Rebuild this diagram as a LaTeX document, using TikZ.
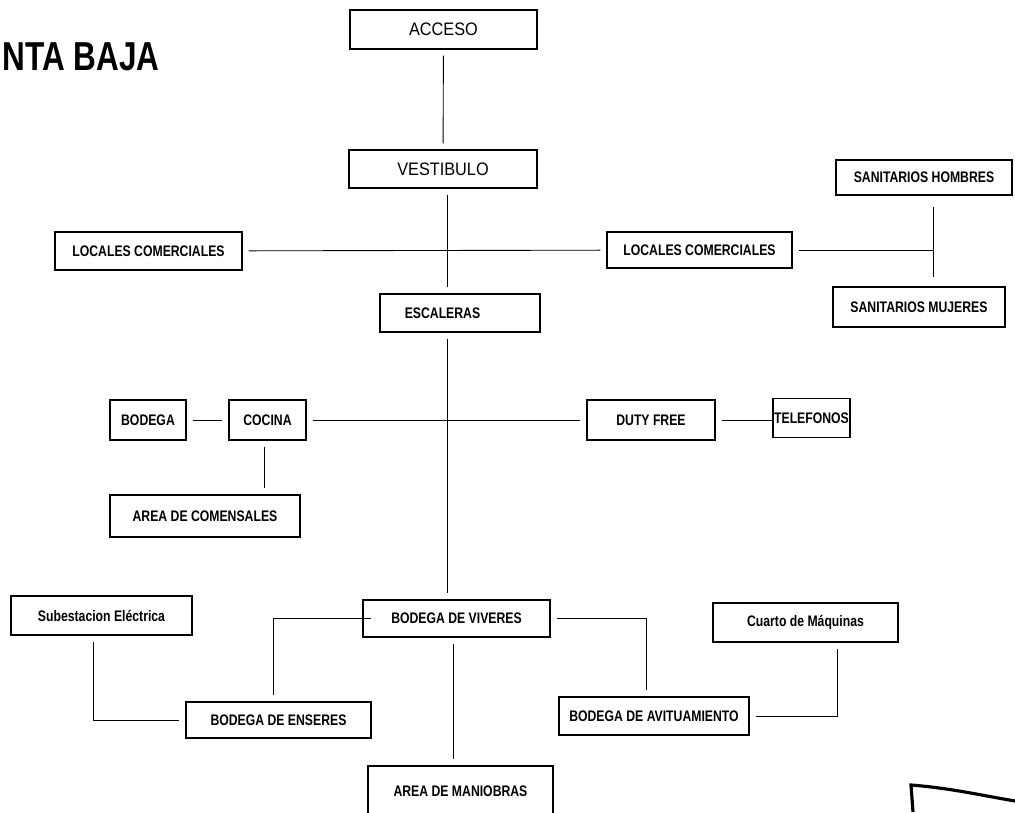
\documentclass[tikz,border=0pt]{standalone}
\usepackage{fontspec}
\setmainfont{Liberation Sans}
\newfontfamily\angosta[FakeStretch=0.8]{Liberation Sans}
\newfontfamily\fina[FakeStretch=0.9]{Liberation Sans}
\newfontfamily\titular[FakeStretch=0.78]{Liberation Sans}
\usepackage{tikz}
\usetikzlibrary{positioning}
\tikzset{
    caja/.style={
        draw,
        line width=0.7pt,
        inner sep=0pt,
        font=\angosta\bfseries\fontsize{8.7}{10}\selectfont
    },
    % letra delgada para acceso y vestibulo
    cajafina/.style={
        caja,
        font=\fina\fontsize{10.3}{12}\selectfont
    },
    enlace/.style={
        line width=0.5pt,
        shorten >=0.12cm,
        shorten <=0.12cm
    }
}

\begin{document}
\begin{tikzpicture}[x=0.02cm, y=-0.02cm]
	\useasboundingbox (0,0) rectangle (1015,812);

	\node [anchor=base east, inner sep=0pt, font=\titular\bfseries\fontsize{23}{26}\selectfont] (titulo) at (160,70) {NTA BAJA};

	\node [cajafina, minimum width=3.74cm, minimum height=0.78cm] (acceso) at (443.5,29.5) {ACCESO};
	\node [cajafina, minimum width=3.76cm, minimum height=0.76cm] (vestibulo) at (443,169) {VESTIBULO};

	\node [caja, minimum width=3.74cm, minimum height=0.76cm] (locizq) at (148.5,251) {LOCALES COMERCIALES};
	\node [caja, minimum width=3.70cm, minimum height=0.72cm] (locder) at (699.5,250) {LOCALES COMERCIALES};
	\node [caja, minimum width=3.52cm, minimum height=0.70cm] (sanhom) at (924,177.5) {SANITARIOS HOMBRES};
	\node [caja, minimum width=3.44cm, minimum height=0.80cm] (sanmuj) at (919,307) {SANITARIOS MUJERES};
	\node [caja, minimum width=3.20cm, minimum height=0.76cm] (escaleras) at (460,313) {\hspace*{-0.7cm}ESCALERAS};

	\node [caja, minimum width=1.52cm, minimum height=0.80cm] (bodega) at (148,420) {BODEGA};
	\node [caja, minimum width=1.54cm, minimum height=0.80cm] (cocina) at (267.5,420) {COCINA};
	\node [caja, minimum width=2.56cm, minimum height=0.80cm] (dutyfree) at (651,420) {DUTY FREE};
	\node [caja, minimum width=1.54cm, minimum height=0.78cm] (telefonos) at (811.5,418) {TELEFONOS};
	\node [caja, minimum width=3.80cm, minimum height=0.84cm] (comensales) at (205,516) {AREA DE COMENSALES};

	\node [caja, minimum width=3.62cm, minimum height=0.78cm] (subest) at (101.5,615.5) {Subestacion Eléctrica};
	\node [caja, minimum width=3.74cm, minimum height=0.74cm] (viveres) at (456.5,618.5) {BODEGA DE VIVERES};
	\node [caja, minimum width=3.70cm, minimum height=0.78cm] (cuarto) at (805.5,622.5) {Cuarto de Máquinas};
	\node [caja, minimum width=3.70cm, minimum height=0.72cm] (enseres) at (278.5,720) {BODEGA DE ENSERES};
	\node [caja, minimum width=3.80cm, minimum height=0.76cm] (avit) at (654,716) {BODEGA DE AVITUAMIENTO};
	\node [caja, minimum width=3.70cm, minimum height=1.00cm] (maniobras) at (460.5,791) {AREA DE MANIOBRAS};

	% eje central
	\coordinate (eje) at (447,0);
	\coordinate (cruce) at (933,250);

	\draw[enlace] (acceso) -- (vestibulo);
	\draw[enlace] (vestibulo.south -| eje) -- (escaleras.north -| eje);
	\draw[enlace] (escaleras.south -| eje) -- (viveres.north -| eje);
	\draw[enlace] ([xshift=-0.07cm]viveres.south) -- ([xshift=-0.07cm]viveres.south |- maniobras.north);

	\draw[enlace] (locizq) -- (locder);
	\draw[enlace, shorten >=0pt] (locder.east) -- (cruce);
	\draw[enlace, shorten <=0.22cm, shorten >=0.18cm] (sanhom.south -| cruce) -- (sanmuj.north -| cruce);

	\draw[enlace] (bodega) -- (cocina);
	\draw[enlace] (cocina) -- (dutyfree);
	\draw[enlace, shorten >=0pt] (dutyfree.east) -- (dutyfree.east -| telefonos.west);
	\draw[enlace] ([xshift=-0.07cm]cocina.south) -- ([xshift=-0.07cm]cocina.south |- comensales.north);

	\draw[enlace, shorten <=-0.18cm] (viveres.west) -| ([xshift=-0.11cm]enseres.north);
	\draw[enlace] ([xshift=-0.17cm]subest.south) |- (enseres.west);
	\draw[enlace] (viveres.east) -| ([xshift=-0.16cm]avit.north);
	\draw[enlace] ([xshift=0.63cm]cuarto.south) |- (avit.east);

	% sello de la esquina
	\draw[line width=1.8pt] (913,812) -- (911,785) .. controls (950,788) and (985,796) .. (1015,801);
\end{tikzpicture}
\end{document}
